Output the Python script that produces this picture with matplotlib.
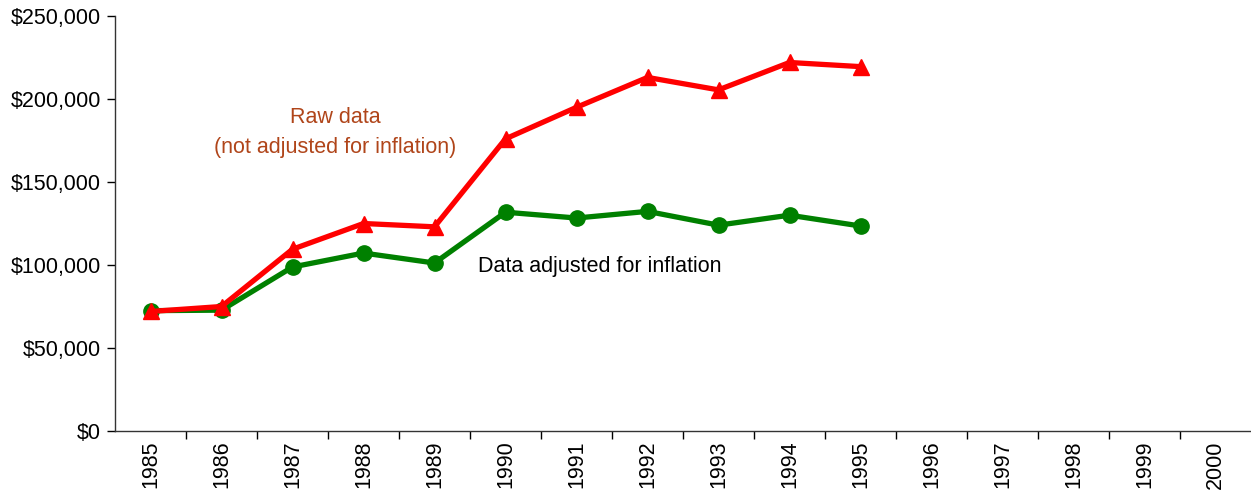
import matplotlib
matplotlib.use("Agg")
from matplotlib import pyplot as plt
from matplotlib.ticker import FuncFormatter, FixedLocator

years = [str(y) for y in range(1985, 2001)]
raw = [72000, 75000, 109500, 125000, 123000, 176000, 195000, 213000, 205500, 222000, 219500]
adjusted = [72500, 72800, 98800, 107200, 101200, 131800, 128300, 132300, 124000, 130000, 123500]

plt.rcParams['font.family'] = ['Liberation Sans', 'DejaVu Sans']
plt.rcParams['font.size'] = 15.5

fig = plt.figure(figsize=(12.51, 4.95), dpi=100)
ax = fig.add_axes([115 / 1251, 64 / 495, 1 - 115 / 1251, 415 / 495])

x = list(range(len(raw)))
ax.plot(x, adjusted, color='#008000', lw=3.8, marker='o', ms=11, zorder=3)
ax.plot(x, raw, color='#FF0000', lw=3.8, marker='^', ms=12, zorder=4)

ax.set_xlim(-0.5, len(years) - 0.5)
ax.set_ylim(0, 250000)
ax.set_xticks(range(len(years)))
ax.set_xticklabels(years, rotation=90)
ax.xaxis.set_minor_locator(FixedLocator([i + 0.5 for i in range(len(years) - 1)]))
ax.tick_params(axis='x', which='major', length=0, pad=7)
ax.tick_params(axis='x', which='minor', length=6, width=1, direction='out')
ax.set_yticks(range(0, 250001, 50000))
ax.yaxis.set_major_formatter(FuncFormatter(lambda v, p: '${:,.0f}'.format(v)))
ax.tick_params(axis='y', length=6, width=1, direction='out', pad=4)

for s in ['top', 'right']:
    ax.spines[s].set_visible(False)
for s in ['left', 'bottom']:
    ax.spines[s].set_linewidth(1)
    ax.spines[s].set_color('#333333')

ax.text(2.6, 180000, 'Raw data\n(not adjusted for inflation)', color='#B0451A',
        ha='center', va='center', linespacing=1.55)
ax.text(6.33, 98800, 'Data adjusted for inflation', color='black',
        ha='center', va='center')

fig.savefig('out.png', dpi=100)
